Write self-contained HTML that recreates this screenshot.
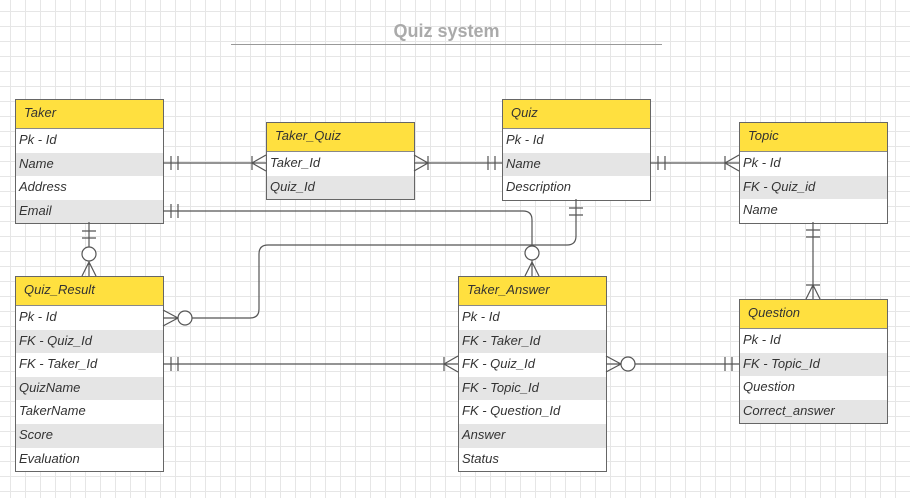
<!DOCTYPE html>
<html><head><meta charset="utf-8"><style>
body{margin:0;width:910px;height:498px;overflow:hidden;background:#fff;
background-image:linear-gradient(#e6e6e6 1px,transparent 1px),linear-gradient(90deg,#e6e6e6 1px,transparent 1px);
background-size:15px 15px;background-position:-5px -4px;font-family:"Liberation Sans",sans-serif;position:relative}
.t{position:absolute;border:1px solid #666;background:#fff;box-sizing:border-box;width:149px}
.t div{height:23.6px;line-height:22px;padding-left:3px;font-style:italic;font-size:13px;color:#333;box-sizing:border-box}
.t .h{background:#ffe03f;height:29px;line-height:25px;padding-left:8px;border-bottom:1px solid #888}
.t .g{background:#e5e5e5}
svg{position:absolute;left:0;top:0}
</style></head><body>
<div style="position:absolute;left:231px;top:21px;width:431px;text-align:center;font-weight:bold;font-size:18px;color:#aaa">Quiz system</div>
<div style="position:absolute;left:231px;top:44px;width:431px;height:1px;background:#999"></div>

<div class="t" style="left:15px;top:99px"><div class="h">Taker</div><div>Pk - Id</div><div class="g">Name</div><div>Address</div><div class="g">Email</div></div>
<div class="t" style="left:266px;top:122px"><div class="h">Taker_Quiz</div><div>Taker_Id</div><div class="g">Quiz_Id</div></div>
<div class="t" style="left:502px;top:99px"><div class="h">Quiz</div><div>Pk - Id</div><div class="g">Name</div><div>Description</div></div>
<div class="t" style="left:739px;top:122px"><div class="h">Topic</div><div>Pk - Id</div><div class="g">FK - Quiz_id</div><div>Name</div></div>
<div class="t" style="left:15px;top:276px"><div class="h">Quiz_Result</div><div>Pk - Id</div><div class="g">FK - Quiz_Id</div><div>FK - Taker_Id</div><div class="g">QuizName</div><div>TakerName</div><div class="g">Score</div><div>Evaluation</div></div>
<div class="t" style="left:458px;top:276px"><div class="h">Taker_Answer</div><div>Pk - Id</div><div class="g">FK - Taker_Id</div><div>FK - Quiz_Id</div><div class="g">FK - Topic_Id</div><div>FK - Question_Id</div><div class="g">Answer</div><div>Status</div></div>
<div class="t" style="left:739px;top:299px"><div class="h">Question</div><div>Pk - Id</div><div class="g">FK - Topic_Id</div><div>Question</div><div class="g">Correct_answer</div></div>

<svg width="910" height="498" fill="none" stroke="#555" stroke-width="1.2">
<path d="M163 163H266M171 156V170M178 156V170M252 156V170M252 163L266 155M252 163L266 171"/>
<path d="M414 163H502M428 156V170M414 155L428 163L414 171M488 156V170M495 156V170"/>
<path d="M650 163H739M658 156V170M665 156V170M725 156V170M725 163L739 155M725 163L739 171"/>
<path d="M163 211H523Q532 211 532 220V246M171 204V218M178 204V218"/>
<circle cx="532" cy="253" r="7" fill="#fff"/>
<path d="M532 260V276M532 262L525 276M532 262L539 276"/>
<path d="M576 199V236Q576 245 567 245H268Q259 245 259 254V309Q259 318 250 318H192M569 208H583M569 215H583"/>
<circle cx="185" cy="318" r="7" fill="#fff"/>
<path d="M163 318H178M178 318L163 310M178 318L163 326"/>
<path d="M89 222V247M82 231H96M82 238H96"/>
<circle cx="89" cy="254" r="7" fill="#fff"/>
<path d="M89 261V276M89 262L82 276M89 262L96 276"/>
<path d="M163 364H458M171 357V371M178 357V371M444 357V371M444 364L458 356M444 364L458 372"/>
<path d="M606 364H621M606 356L621 364L606 372M635 364H739M725 357V371M732 357V371"/>
<circle cx="628" cy="364" r="7" fill="#fff"/>
<path d="M813 222V299M806 230H820M806 237H820M806 285H820M813 285L806 299M813 285L820 299"/>
</svg>
</body></html>
